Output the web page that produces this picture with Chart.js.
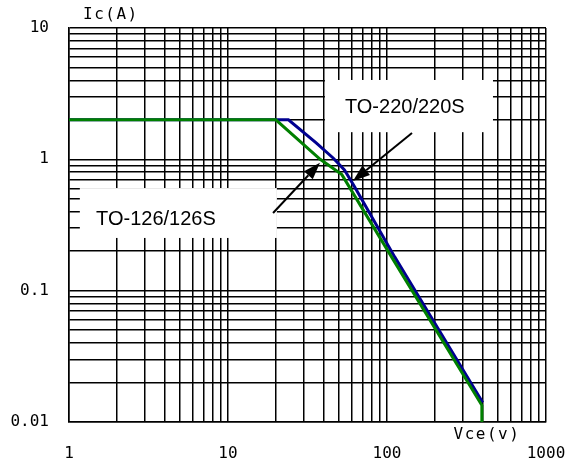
<!DOCTYPE html>
<html>
<head>
<meta charset="utf-8">
<script src="https://cdn.jsdelivr.net/npm/chart.js@4.4.1/dist/chart.umd.min.js"></script>
<style>
  html, body { margin: 0; padding: 0; background: #fff; }
  #wrap { width: 569px; height: 466px; }
</style>
</head>
<body>
<div id="wrap"><canvas id="soa"></canvas></div>
<script>
// safe operating area
var vce126 = [1, 20, 38, 52, 107, 395, 395];
var ic126  = [2, 2, 1.0, 0.765, 0.18, 0.0134, 0.01];
var vce220 = [1, 24, 36, 46, 54, 62, 112, 400];
var ic220  = [2, 2, 1.33, 1.02, 0.83, 0.63, 0.18, 0.0141];

var xTickValues = [1, 10, 100, 1000];
var xTickText   = ['1', '10', '100', '1000'];
var yTickValues = [0.01, 0.1, 1, 10];
var yTickText   = ['0.01', '0.1', '1', '10'];

var seriesNames = ['TO-126/126S', 'TO-220/220S'];

// grid lines at 1..9 x 10^n
function logGrid(lo, hi) {
  var out = [];
  for (var e = lo; e < hi; e++) {
    for (var k = 1; k < 10; k++) out.push(parseFloat((k * Math.pow(10, e)).toPrecision(3)));
  }
  out.push(Math.pow(10, hi));
  return out;
}

function pts(xs, ys) {
  return xs.map(function (x, i) { return { x: x, y: ys[i] }; });
}

function labelFor(values, texts, v) {
  for (var i = 0; i < values.length; i++) {
    if (Math.abs(v - values[i]) / values[i] < 1e-6) return texts[i];
  }
  return '';
}

var mono = '"DejaVu Sans Mono", monospace';
var sans = '"Liberation Sans", Arial, sans-serif';

// callout boxes and arrows, in data coordinates
var callouts = [
  { text: seriesNames[1], box: [40.7, 464, 4.02, 1.61], at: [54.4, 2.5], from: [143.6, 1.585], to: [61.1, 0.684] },
  { text: seriesNames[0], box: [1.17, 20.3, 0.604, 0.252], at: [1.48, 0.348], from: [19.2, 0.39], to: [37.9, 0.94] }
];

function drawArrow(ctx, x1, y1, x2, y2) {
  var a = Math.atan2(y2 - y1, x2 - x1);
  var len = 17, w = 6;
  var bx = x2 - len * Math.cos(a), by = y2 - len * Math.sin(a);
  ctx.beginPath();
  ctx.moveTo(x1, y1);
  ctx.lineTo(bx, by);
  ctx.stroke();
  ctx.beginPath();
  ctx.moveTo(x2, y2);
  ctx.lineTo(bx + w * Math.sin(a), by - w * Math.cos(a));
  ctx.lineTo(bx - w * Math.sin(a), by + w * Math.cos(a));
  ctx.closePath();
  ctx.fill();
}

var notes = {
  id: 'notes',
  beforeDatasetsDraw: function (chart) {
    var ctx = chart.ctx, xs = chart.scales.x, ys = chart.scales.y;
    ctx.save();
    callouts.forEach(function (c) {
      var l = xs.getPixelForValue(c.box[0]), r = xs.getPixelForValue(c.box[1]);
      var t = ys.getPixelForValue(c.box[2]), b = ys.getPixelForValue(c.box[3]);
      ctx.fillStyle = '#fff';
      ctx.fillRect(l, t, r - l, b - t);
      ctx.fillStyle = '#000';
      ctx.font = '20px ' + sans;
      ctx.textBaseline = 'middle';
      ctx.textAlign = 'left';
      ctx.fillText(c.text, xs.getPixelForValue(c.at[0]), ys.getPixelForValue(c.at[1]));
    });
    ctx.restore();
  },
  afterDatasetsDraw: function (chart) {
    var ctx = chart.ctx, xs = chart.scales.x, ys = chart.scales.y;
    ctx.save();
    ctx.strokeStyle = '#000';
    ctx.fillStyle = '#000';
    ctx.lineWidth = 2;
    callouts.forEach(function (c) {
      drawArrow(ctx,
        xs.getPixelForValue(c.from[0]), ys.getPixelForValue(c.from[1]),
        xs.getPixelForValue(c.to[0]), ys.getPixelForValue(c.to[1]));
    });
    ctx.restore();
  },
  afterDraw: function (chart) {
    var ctx = chart.ctx, area = chart.chartArea, xs = chart.scales.x;
    ctx.save();
    ctx.fillStyle = '#000';
    ctx.font = '16px ' + mono;
    ctx.letterSpacing = '1.5px';
    ctx.textBaseline = 'middle';
    ctx.textAlign = 'left';
    ctx.fillText('Ic(A)', area.left + 14, area.top - 13);
    ctx.fillText('Vce(v)', xs.getPixelForValue(262), area.bottom + 13);
    ctx.restore();
  }
};

var ctx = document.getElementById('soa').getContext('2d');
var chart = new Chart(ctx, {
  type: 'line',
  data: {
    datasets: [{
      label: seriesNames[0],
      data: pts(vce126, ic126),
      borderColor: '#008000',
      borderWidth: 3,
      pointRadius: 0,
      tension: 0
    }, {
      label: seriesNames[1],
      data: pts(vce220, ic220),
      borderColor: '#000090',
      borderWidth: 3,
      pointRadius: 0,
      tension: 0
    }]
  },
  options: {
    responsive: true,
    maintainAspectRatio: false,
    animation: false,
    events: [],
    layout: { padding: { top: 28, right: 23, left: 0, bottom: 0 } },
    plugins: {
      legend: { display: false },
      tooltip: { enabled: false }
    },
    scales: {
      x: {
        type: 'logarithmic',
        min: 1,
        max: 1000,
        afterBuildTicks: function (scale) {
          scale.ticks = logGrid(0, 3).map(function (v) { return { value: v }; });
        },
        afterFit: function (scale) {
          scale.height = 44;
          scale.paddingLeft = 0;
          scale.paddingRight = 0;
        },
        grid: { color: '#000', lineWidth: 1.5, drawTicks: false },
        border: { color: '#000', width: 1.5 },
        ticks: {
          autoSkip: false,
          maxRotation: 0,
          padding: 22,
          color: '#000',
          font: { family: mono, size: 16 },
          callback: function (v) { return labelFor(xTickValues, xTickText, v); }
        }
      },
      y: {
        type: 'logarithmic',
        min: 0.01,
        max: 10,
        afterBuildTicks: function (scale) {
          scale.ticks = logGrid(-2, 1).map(function (v) { return { value: v }; });
        },
        afterFit: function (scale) {
          scale.width = 69;
          scale.paddingTop = 0;
          scale.paddingBottom = 0;
        },
        grid: { color: '#000', lineWidth: 1.5, drawTicks: false },
        border: { color: '#000', width: 1.5 },
        ticks: {
          autoSkip: false,
          padding: 20,
          color: '#000',
          font: { family: mono, size: 16 },
          callback: function (v) { return labelFor(yTickValues, yTickText, v); }
        }
      }
    }
  },
  plugins: [notes]
});
</script>
</body>
</html>
